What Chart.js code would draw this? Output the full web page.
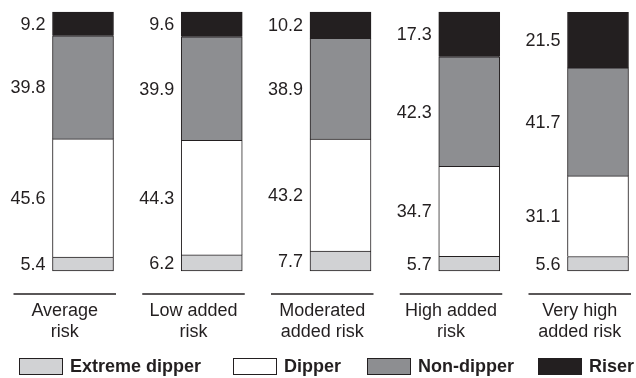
<!DOCTYPE html>
<html>
<head>
<meta charset="utf-8">
<script src="https://cdn.jsdelivr.net/npm/chart.js@4"></script>
<style>
  html, body { margin: 0; padding: 0; background: #fff; overflow: hidden; }
  #wrap { width: 636px; height: 378px; position: relative; }
</style>
</head>
<body>
<div id="wrap"><canvas id="c" width="636" height="378"></canvas></div>
<script>
// ---- Data ----
const categories = [
  ['Average', 'risk'],
  ['Low added', 'risk'],
  ['Moderated', 'added risk'],
  ['High added', 'risk'],
  ['Very high', 'added risk']
];
const seriesNames = ['Extreme dipper', 'Dipper', 'Non-dipper', 'Riser'];
const extremeDipper = [5.4, 6.2, 7.7, 5.7, 5.6];
const dipper = [45.6, 44.3, 43.2, 34.7, 31.1];
const nonDipper = [39.8, 39.9, 38.9, 42.3, 41.7];
const riser = [9.2, 9.6, 10.2, 17.3, 21.5];

const colors = ['#d1d2d4', '#ffffff', '#8d8e91', '#231f20'];
const edge = '#231f20';
const FONT = '"Liberation Sans", Arial, Helvetica, sans-serif';

const seriesValues = [extremeDipper, dipper, nonDipper, riser];

const overlay = {
  id: 'overlay',
  afterDatasetsDraw(chart) {
    const ctx = chart.ctx;
    ctx.save();
    // value labels to the left of each segment
    ctx.font = '18px ' + FONT;
    ctx.fillStyle = edge;
    ctx.textAlign = 'right';
    ctx.textBaseline = 'middle';
    chart.data.datasets.forEach((ds, di) => {
      const meta = chart.getDatasetMeta(di);
      meta.data.forEach((el, i) => {
        const p = el.getProps(['x', 'y', 'base', 'width'], true);
        const left = p.x - p.width / 2;
        ctx.fillText(ds.data[i].toFixed(1), left - 7, (p.y + p.base) / 2 + 1);
      });
    });
    // category rules and labels
    const meta0 = chart.getDatasetMeta(0);
    meta0.data.forEach((el, i) => {
      const p = el.getProps(['x', 'width'], true);
      const right = p.x + p.width / 2;
      const x0 = right - 100, x1 = right + 2.5;
      ctx.strokeStyle = edge;
      ctx.lineWidth = 1.5;
      ctx.beginPath();
      ctx.moveTo(x0, 294);
      ctx.lineTo(x1, 294);
      ctx.stroke();
      ctx.textAlign = 'center';
      ctx.textBaseline = 'middle';
      ctx.font = '18px ' + FONT;
      const cx = (x0 + x1) / 2;
      categories[i].forEach((line, k) => {
        ctx.fillText(line, cx, 311 + k * 21);
      });
    });
    // legend
    const boxes = [19, 233, 367, 538];
    ctx.font = 'bold 18px ' + FONT;
    ctx.textAlign = 'left';
    ctx.textBaseline = 'middle';
    seriesNames.forEach((name, i) => {
      ctx.fillStyle = colors[i];
      ctx.fillRect(boxes[i] + 0.5, 358.5, 43, 16);
      ctx.strokeStyle = edge;
      ctx.lineWidth = 1;
      ctx.strokeRect(boxes[i] + 0.5, 358.5, 43, 16);
      ctx.fillStyle = edge;
      ctx.fillText(name, boxes[i] + 51, 367);
    });
    ctx.restore();
  }
};

new Chart(document.getElementById('c'), {
  type: 'bar',
  data: {
    labels: categories.map(c => c.join(' ')),
    datasets: seriesValues.map((vals, i) => ({
      label: seriesNames[i],
      data: vals,
      backgroundColor: colors[i],
      borderColor: edge,
      borderWidth: 1,
      borderSkipped: i === 0 ? false : 'start',
      barThickness: 61,
      clip: false
    }))
  },
  options: {
    responsive: false,
    animation: false,
    events: [],
    layout: { padding: { left: 83, right: 38, top: 12, bottom: 107 } },
    plugins: { legend: { display: false }, tooltip: { enabled: false } },
    scales: {
      x: { stacked: true, display: false, offset: false },
      y: { stacked: true, display: false, min: 0, max: 100 }
    }
  },
  plugins: [overlay]
});
</script>
</body>
</html>
